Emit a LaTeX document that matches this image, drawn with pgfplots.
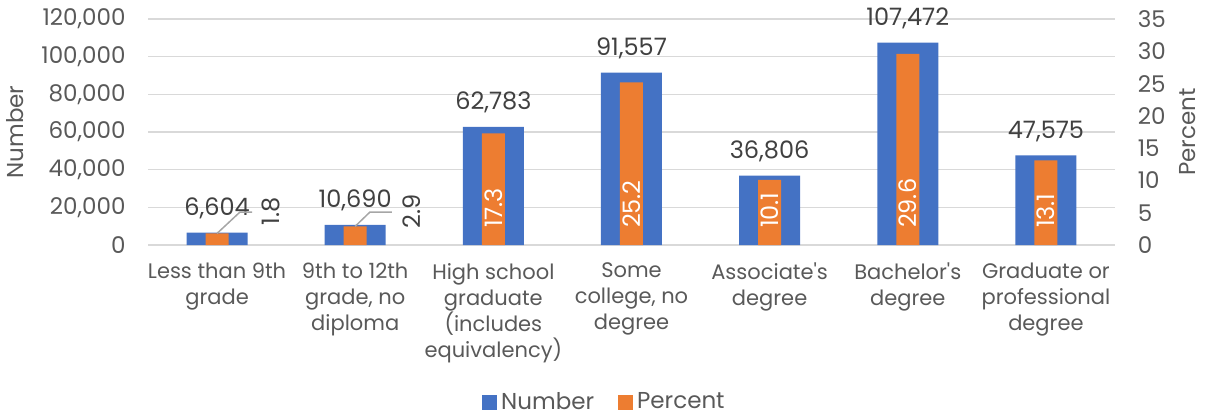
\documentclass[border=0pt]{standalone}
\usepackage{fontspec}
\setmainfont{Poppins}
\usepackage{pgfplots}
\pgfplotsset{compat=1.18}
\definecolor{xblue}{HTML}{4472C4}
\definecolor{xorange}{HTML}{ED7D31}
\definecolor{txt}{HTML}{595959}
\definecolor{lbl}{HTML}{404040}
\definecolor{gridc}{HTML}{D9D9D9}
\definecolor{leader}{HTML}{A6A6A6}
\newcommand{\f}{\fontsize{11.5}{13}\selectfont}
\newcommand{\fc}{\fontsize{10.5}{13}\selectfont}
\newcommand{\fn}{\fontsize{12}{13}\selectfont}
\begin{document}
\begin{tikzpicture}[x=1pt,y=1pt]
\path[use as bounding box] (0,0) rectangle (603,209.5);
\begin{axis}[
  at={(74pt,87pt)}, anchor=south west,
  scale only axis, width=483.5pt, height=113pt,
  ybar, bar width=30.5pt, bar shift=0pt,
  xmin=-0.5, xmax=6.5, ymin=0, ymax=120000,
  ytick={0,20000,40000,60000,80000,100000,120000},
  scaled y ticks=false,
  /pgf/number format/fixed,
  /pgf/number format/1000 sep={,},
  /pgf/number format/assume math mode=true,
  xtick={0,1,2,3,4,5,6},
  xticklabels={{Less than 9th\\grade},{9th to 12th\\grade, no\\diploma},{High school\\graduate\\(includes\\equivalency)},{Some\\college, no\\degree},{Associate\textquotesingle s\\degree},{Bachelor\textquotesingle s\\degree},{Graduate or\\professional\\degree}},
  xticklabel style={align=center, font=\fc, text=txt, yshift=-5.5pt},
  yticklabel style={font=\f, text=txt, xshift=-7.7pt},
  axis line style={draw=none},
  major tick length=0pt,
  ymajorgrids, grid style={gridc, line width=0.75pt},
  ylabel={Number}, ylabel style={at={(axis description cs:-0.1375,0.5)}, anchor=center, rotate=0, font=\f, text=txt},
  nodes near coords,
  nodes near coords style={anchor=base, yshift=8.5pt, font=\fn, text=lbl},
  legend style={at={(axis description cs:0.473,-0.695)}, anchor=center, draw=none, fill=none, legend columns=2, font=\f, text=txt,
    /tikz/every even column/.append style={column sep=10pt}},
  legend image code/.code={\fill[#1] (0pt,-3.75pt) rectangle (7.5pt,3.75pt);},
]
\addplot[fill=xblue, draw=none] coordinates {(0,6604) (1,10690) (2,62783) (3,91557) (4,36806) (5,107472) (6,47575)};
\addlegendentry{Number}
\addlegendimage{fill=xorange, draw=none}
\addlegendentry{Percent}
\end{axis}
\begin{axis}[
  at={(74pt,87pt)}, anchor=south west,
  scale only axis, width=483.5pt, height=113pt,
  ybar, bar width=11.5pt, bar shift=0pt,
  xmin=-0.5, xmax=6.5, ymin=0, ymax=35,
  ytick={0,5,10,15,20,25,30,35},
  /pgf/number format/fixed,
  /pgf/number format/assume math mode=true,
  axis y line*=right, axis x line=none,
  y axis line style={draw=none},
  major tick length=0pt,
  yticklabel style={font=\f, text=txt, xshift=7.9pt},
  ylabel={Percent}, ylabel style={at={(axis description cs:1.0755,0.5)}, anchor=center, rotate=0, font=\f, text=txt},
]
\addplot[fill=xorange, draw=none] coordinates {(0,1.8) (1,2.9) (2,17.3) (3,25.2) (4,10.1) (5,29.6) (6,13.1)};
\addplot[only marks, mark=none, nodes near coords, point meta=explicit symbolic,
  nodes near coords style={yshift=5pt, rotate=90, anchor=west, font=\fn, text=white}]
  table[meta=lab] {
x y lab
2 0 17.3
3 0 25.2
4 0 10.1
5 0 29.6
6 0 13.1
};
\addplot[leader, line width=0.75pt, sharp plot, no marks] coordinates {(0,1.8) (0.166,5.11) (0.253,5.11)};
\addplot[leader, line width=0.75pt, sharp plot, no marks] coordinates {(1,2.9) (1.107,5.11) (1.266,5.11)};
\addplot[only marks, mark=none, nodes near coords, point meta=explicit symbolic,
  nodes near coords style={rotate=90, anchor=center, font=\fn, text=lbl}]
  table[meta=lab] {
x y lab
0.389 5.2 1.8
1.409 5.2 2.9
};
\end{axis}
\end{tikzpicture}
\end{document}
